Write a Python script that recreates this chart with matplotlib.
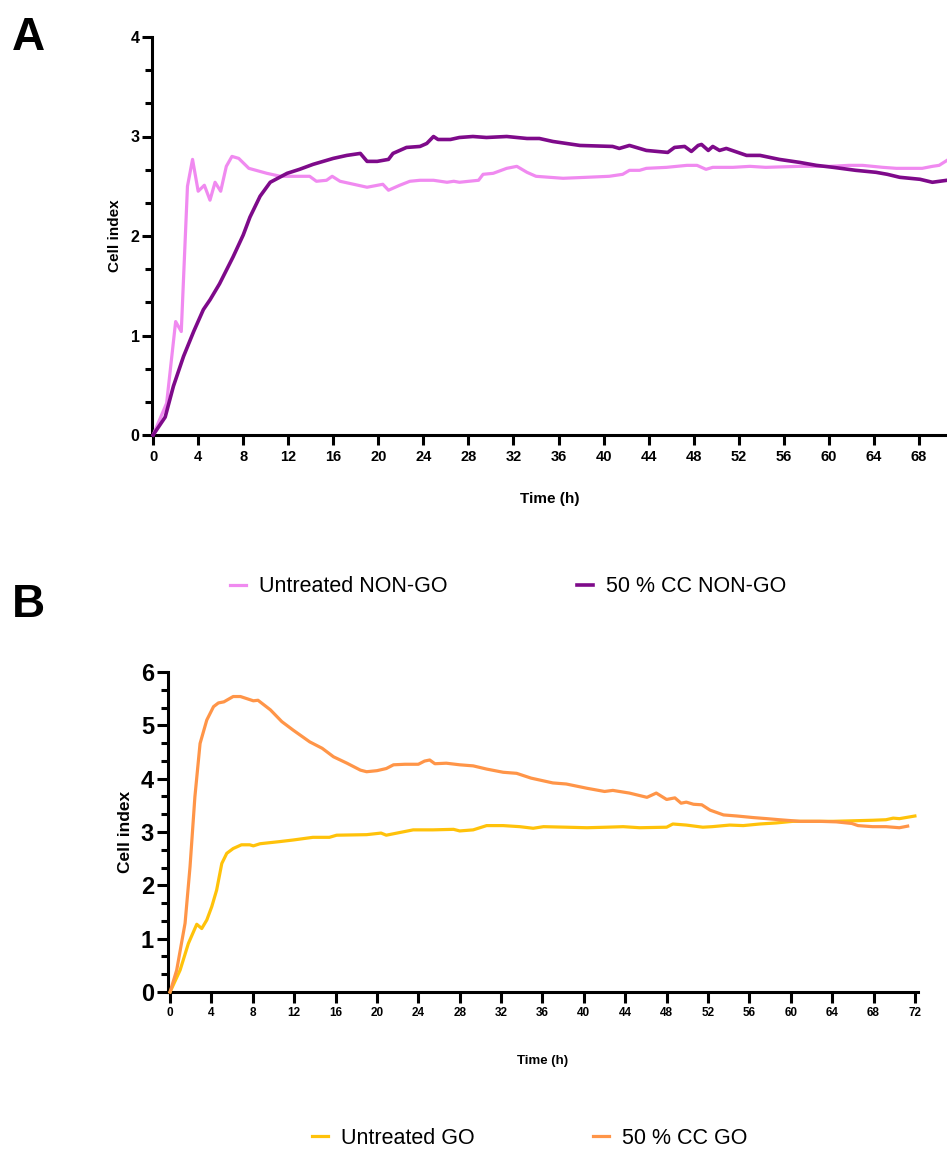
import matplotlib
matplotlib.use("Agg")
import matplotlib.pyplot as plt
from matplotlib.ticker import MultipleLocator

FONTS = ['Liberation Sans Narrow', 'Liberation Sans', 'DejaVu Sans']
plt.rcParams['font.family'] = FONTS

# ---------------- Panel A data ----------------
a_untreated_t = [0, 1.2, 2.0, 2.5, 3.05, 3.5, 4.0, 4.55, 5.05, 5.5, 6.0, 6.5, 7.0, 7.6, 8.5,
                 10.1, 11.3, 13.9, 14.5, 15.4, 15.9, 16.6, 17.8, 19.0, 20.4, 20.9, 21.9, 22.8,
                 23.7, 24.9, 26.1, 26.7, 27.2, 28.9, 29.3, 30.2, 31.4, 32.3, 33.2, 34.0, 36.4,
                 38.5, 40.5, 41.7, 42.3, 43.2, 43.8, 45.6, 47.4, 48.3, 49.1, 49.7, 51.5, 53.0,
                 54.4, 57.4, 60.1, 61.8, 63.0, 64.8, 66.0, 68.3, 69.2, 69.8, 70.5]
a_untreated_v = [0, 0.32, 1.14, 1.04, 2.50, 2.77, 2.45, 2.51, 2.36, 2.54, 2.45, 2.70, 2.80, 2.78, 2.68,
                 2.63, 2.60, 2.60, 2.55, 2.56, 2.60, 2.55, 2.52, 2.49, 2.52, 2.46, 2.51, 2.55,
                 2.56, 2.56, 2.54, 2.55, 2.54, 2.56, 2.62, 2.63, 2.68, 2.70, 2.64, 2.60, 2.58,
                 2.59, 2.60, 2.62, 2.66, 2.66, 2.68, 2.69, 2.71, 2.71, 2.67, 2.69, 2.69, 2.70,
                 2.69, 2.70, 2.70, 2.71, 2.71, 2.69, 2.68, 2.68, 2.70, 2.71, 2.76]

a_cc_t = [0, 1.07, 1.8, 2.7, 3.6, 4.46, 5.06, 5.9, 7.1, 8.0, 8.6, 9.5, 10.4, 11.9, 13.0, 14.2,
          16.0, 17.2, 18.4, 19.0, 19.9, 20.9, 21.3, 22.5, 23.7, 24.3, 24.9, 25.3, 26.4, 27.2,
          28.4, 29.6, 31.4, 33.2, 34.3, 35.5, 37.9, 40.8, 41.4, 42.3, 43.8, 45.7, 46.3, 47.2,
          47.8, 48.4, 48.7, 49.3, 49.7, 50.3, 50.9, 52.7, 53.9, 55.6, 57.4, 58.9, 60.4, 62.4,
          64.2, 65.2, 66.3, 68.1, 69.2, 70.5]
a_cc_v = [0, 0.18, 0.49, 0.79, 1.04, 1.26, 1.36, 1.52, 1.79, 2.01, 2.19, 2.40, 2.54, 2.63, 2.67, 2.72,
          2.78, 2.81, 2.83, 2.75, 2.75, 2.77, 2.83, 2.89, 2.90, 2.93, 3.00, 2.97, 2.97, 2.99,
          3.00, 2.99, 3.00, 2.98, 2.98, 2.95, 2.91, 2.90, 2.88, 2.91, 2.86, 2.84, 2.89, 2.90,
          2.85, 2.91, 2.92, 2.86, 2.90, 2.86, 2.88, 2.81, 2.81, 2.77, 2.74, 2.71, 2.69, 2.66,
          2.64, 2.62, 2.59, 2.57, 2.54, 2.56]

# ---------------- Panel B data ----------------
b_cc_t = [0, 0.64, 1.45, 1.93, 2.4, 2.9, 3.55, 4.2, 4.67, 5.2, 6.1, 6.8, 8.05, 8.5, 9.7, 10.8,
          11.9, 13.5, 14.7, 15.8, 17.1, 18.4, 19.0, 20.0, 20.9, 21.6, 22.7, 24.0, 24.6, 25.1,
          25.6, 26.7, 28.0, 29.3, 30.6, 32.2, 33.5, 34.9, 37.0, 38.3, 40.3, 42.0, 42.8, 44.4,
          46.1, 47.0, 48.0, 48.8, 49.4, 49.9, 50.6, 51.4, 52.2, 53.5, 54.8, 56.4, 57.7, 58.9,
          60.9, 62.8, 64.4, 65.9, 66.5, 67.9, 69.2, 70.5, 71.3]
b_cc_v = [0, 0.41, 1.29, 2.35, 3.66, 4.66, 5.10, 5.35, 5.42, 5.44, 5.54, 5.54, 5.46, 5.47, 5.29, 5.07,
          4.91, 4.69, 4.57, 4.41, 4.29, 4.16, 4.13, 4.15, 4.19, 4.26, 4.27, 4.27, 4.33, 4.35,
          4.28, 4.29, 4.26, 4.24, 4.18, 4.12, 4.10, 4.01, 3.92, 3.90, 3.82, 3.76, 3.78, 3.73,
          3.65, 3.73, 3.61, 3.64, 3.54, 3.56, 3.52, 3.51, 3.41, 3.32, 3.30, 3.27, 3.25, 3.23,
          3.20, 3.20, 3.19, 3.16, 3.12, 3.10, 3.10, 3.08, 3.11]

b_untreated_t = [0, 0.97, 1.77, 2.58, 3.06, 3.55, 4.03, 4.5, 5.0, 5.48, 6.1, 6.9, 7.7, 8.05, 8.7,
                 10.6, 11.9, 13.8, 15.4, 16.1, 19.0, 20.4, 20.9, 22.2, 23.5, 25.4, 27.4, 28.0,
                 29.3, 30.6, 32.2, 33.8, 35.1, 36.1, 38.3, 40.3, 42.2, 43.8, 45.4, 48.0, 48.6,
                 49.9, 51.5, 52.4, 54.1, 55.4, 57.0, 58.6, 60.2, 62.5, 64.1, 66.0, 67.9, 69.2,
                 69.9, 70.5, 72.0]
b_untreated_v = [0, 0.41, 0.91, 1.27, 1.19, 1.35, 1.60, 1.91, 2.41, 2.60, 2.69, 2.76, 2.76, 2.74, 2.78,
                 2.82, 2.85, 2.90, 2.90, 2.94, 2.95, 2.98, 2.94, 2.99, 3.04, 3.04, 3.05, 3.02,
                 3.04, 3.12, 3.12, 3.10, 3.07, 3.10, 3.09, 3.08, 3.09, 3.10, 3.08, 3.09, 3.15,
                 3.13, 3.09, 3.10, 3.13, 3.12, 3.15, 3.17, 3.20, 3.20, 3.20, 3.21, 3.22, 3.23,
                 3.26, 3.25, 3.30]

a_xticks = list(range(0, 69, 4))
b_xticks = list(range(0, 73, 4))

C_PINK = '#F08AF0'
C_PURPLE = '#7E0A8A'
C_GOLD = '#FFC20A'
C_ORANGE = '#FF9548'

fig = plt.figure(figsize=(9.47, 11.57), dpi=100)
W, H = 947, 1157


def ax_rect(l, r, t, b):
    return [l / W, 1 - b / H, (r - l) / W, (b - t) / H]


def style(ax, lw=2.2):
    for s in ['top', 'right']:
        ax.spines[s].set_visible(False)
    for s in ['left', 'bottom']:
        ax.spines[s].set_linewidth(lw)
        ax.spines[s].set_color('black')


# ---------------- Panel A ----------------
axA = fig.add_axes(ax_rect(152, 947, 37, 435))
axA.plot(a_untreated_t, a_untreated_v, color=C_PINK, lw=2.3, label='Untreated NON-GO', clip_on=False, zorder=3)
axA.plot(a_cc_t, a_cc_v, color=C_PURPLE, lw=2.6, label='50 % CC NON-GO', clip_on=False, zorder=4)
axA.set_xlim(-0.1, 70.5)
axA.set_ylim(0, 4)
style(axA)
axA.set_xticks(a_xticks)
axA.yaxis.set_major_locator(MultipleLocator(1))
axA.yaxis.set_minor_locator(MultipleLocator(1 / 3))
axA.tick_params(axis='both', which='major', length=7, width=2.2, direction='out')
axA.tick_params(axis='y', which='minor', length=5, width=2.2)
axA.tick_params(axis='x', labelsize=10.5, pad=4)
axA.tick_params(axis='y', labelsize=11.5, pad=2)
for lab in axA.get_xticklabels() + axA.get_yticklabels():
    lab.set_fontweight('bold')
axA.set_xlabel('Time (h)', fontsize=11, fontweight='bold', labelpad=20)
axA.set_ylabel('Cell index', fontsize=11, fontweight='bold', labelpad=6)
fig.text(12 / W, 1 - 38 / H, 'A', fontsize=33, fontweight='bold', va='center', ha='left',
         family=['Liberation Sans', 'DejaVu Sans'])

h, l = axA.get_legend_handles_labels()
fig.legend(h, l, loc='center', bbox_to_anchor=(508 / W, 1 - 587 / H), ncol=2, frameon=False,
           fontsize=15.5, handlelength=0.75, handletextpad=0.6, columnspacing=6.0)

# ---------------- Panel B ----------------
axB = fig.add_axes(ax_rect(168, 918, 672, 992))
axB.plot(b_untreated_t, b_untreated_v, color=C_GOLD, lw=2.3, label='Untreated GO', clip_on=False, zorder=3)
axB.plot(b_cc_t, b_cc_v, color=C_ORANGE, lw=2.3, label='50 % CC GO', clip_on=False, zorder=4)
axB.set_xlim(-0.2, 72.3)
axB.set_ylim(0, 6)
style(axB)
axB.set_xticks(b_xticks)
axB.yaxis.set_major_locator(MultipleLocator(1))
axB.yaxis.set_minor_locator(MultipleLocator(1 / 3))
axB.tick_params(axis='both', which='major', length=8, width=2.2, direction='out')
axB.tick_params(axis='y', which='minor', length=5, width=2.2)
axB.tick_params(axis='x', labelsize=8.5, pad=3)
axB.tick_params(axis='y', labelsize=17, pad=2)
for lab in axB.get_xticklabels() + axB.get_yticklabels():
    lab.set_fontweight('bold')
axB.set_xlabel('Time (h)', fontsize=9.5, fontweight='bold', labelpad=26)
axB.set_ylabel('Cell index', fontsize=12.5, fontweight='bold', labelpad=6)
fig.text(12 / W, 1 - 605 / H, 'B', fontsize=33, fontweight='bold', va='center', ha='left',
         family=['Liberation Sans', 'DejaVu Sans'])

h, l = axB.get_legend_handles_labels()
fig.legend(h, l, loc='center', bbox_to_anchor=(530 / W, 1 - 1138 / H), ncol=2, frameon=False,
           fontsize=15.5, handlelength=0.75, handletextpad=0.6, columnspacing=5.5)

fig.savefig('out.png', dpi=100)
